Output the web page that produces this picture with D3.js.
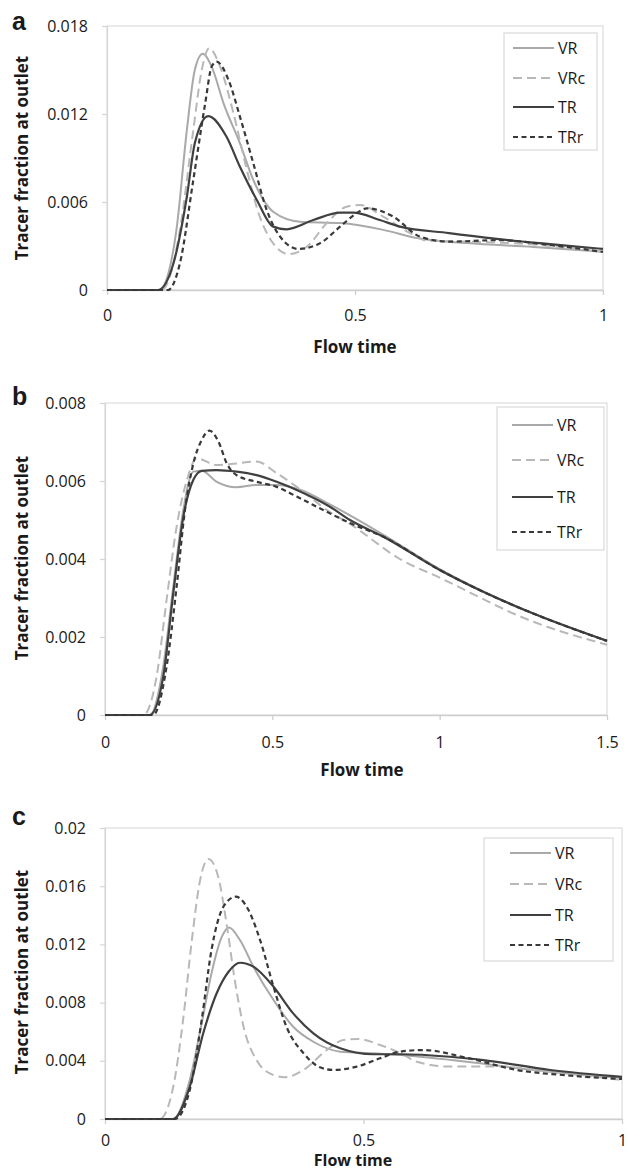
<!DOCTYPE html>
<html>
<head>
<meta charset="utf-8">
<script src="https://cdn.jsdelivr.net/npm/d3@7"></script>
<style>
  body { margin: 0; background: #fff; }
  svg text { font-family: "Open Sans", "Noto Sans", sans-serif; fill: #1a1a1a; }
</style>
</head>
<body>
<div id="chart"></div>
<script>
// series names shared by all three panels
const seriesNames = ["VR", "VRc", "TR", "TRr"];

// panel a: [flow time, tracer fraction]
const aVR = [[0,0],[0.105,0],[0.125,0.0013],[0.14,0.0041],[0.161,0.0109],[0.177,0.015],[0.193,0.0161],[0.211,0.01523],[0.235,0.01273],[0.268,0.01],[0.295,0.0075],[0.335,0.00534],[0.389,0.00466],[0.47,0.00456],[0.557,0.0041],[0.625,0.00354],[0.725,0.0032],[0.86,0.00293],[1,0.0026]];
const aVRc = [[0,0],[0.11,0],[0.13,0.0013],[0.147,0.0041],[0.174,0.0109],[0.191,0.015],[0.206,0.01648],[0.228,0.01523],[0.255,0.01205],[0.282,0.00818],[0.308,0.005],[0.335,0.00318],[0.366,0.00245],[0.403,0.00295],[0.443,0.00456],[0.483,0.00568],[0.51,0.0058],[0.557,0.005],[0.61,0.0039],[0.645,0.00336],[0.725,0.0033],[0.86,0.0031],[1,0.0026]];
const aTR = [[0,0],[0.103,0],[0.134,0.00182],[0.161,0.00636],[0.177,0.01],[0.204,0.01186],[0.241,0.01045],[0.268,0.0084],[0.302,0.00614],[0.335,0.00432],[0.362,0.00414],[0.416,0.00477],[0.47,0.00527],[0.497,0.00527],[0.55,0.00477],[0.591,0.00432],[0.69,0.00388],[0.79,0.00347],[0.893,0.00313],[1,0.0028]];
const aTRr = [[0,0],[0.123,0],[0.147,0.00182],[0.174,0.0075],[0.198,0.01273],[0.211,0.01523],[0.221,0.01557],[0.245,0.01432],[0.268,0.01182],[0.295,0.00864],[0.322,0.00545],[0.349,0.00364],[0.386,0.0028],[0.429,0.00318],[0.47,0.00432],[0.503,0.00523],[0.524,0.00557],[0.577,0.005],[0.631,0.00364],[0.69,0.0033],[0.79,0.0034],[0.893,0.00307],[1,0.0026]];

// panel b
const bVR = [[0,0],[0.134,0],[0.174,0.00124],[0.204,0.00329],[0.234,0.00526],[0.264,0.00624],[0.289,0.00626],[0.334,0.00598],[0.393,0.00584],[0.453,0.0059],[0.513,0.0059],[0.583,0.00578],[0.672,0.0054],[0.732,0.00512],[0.832,0.00462],[1,0.00374],[1.13,0.00317],[1.28,0.0026],[1.5,0.0019]];
const bVRc = [[0,0],[0.115,0],[0.154,0.00098],[0.184,0.00295],[0.214,0.00483],[0.244,0.006],[0.274,0.00658],[0.334,0.00641],[0.393,0.00645],[0.453,0.0065],[0.513,0.0062],[0.573,0.00585],[0.672,0.0052],[0.732,0.0049],[0.881,0.004],[1,0.00352],[1.28,0.00239],[1.5,0.0018]];
const bTR = [[0,0],[0.134,0],[0.174,0.00098],[0.204,0.00312],[0.234,0.00508],[0.264,0.00603],[0.289,0.00626],[0.334,0.00628],[0.393,0.00624],[0.453,0.00615],[0.513,0.00598],[0.573,0.00577],[0.672,0.00534],[0.732,0.005],[0.832,0.00457],[1,0.00372],[1.13,0.00316],[1.28,0.0026],[1.5,0.0019]];
const bTRr = [[0,0],[0.144,0],[0.184,0.00124],[0.214,0.00329],[0.239,0.00526],[0.264,0.00645],[0.289,0.00705],[0.312,0.00729],[0.339,0.00701],[0.364,0.00645],[0.393,0.00615],[0.453,0.00598],[0.513,0.00585],[0.573,0.0056],[0.672,0.00517],[0.732,0.00492],[0.832,0.00457],[1,0.00372],[1.13,0.00316],[1.28,0.0026],[1.5,0.0019]];

// panel c
const cVR = [[0,0],[0.132,0],[0.164,0.00268],[0.187,0.00658],[0.206,0.01001],[0.226,0.01253],[0.24,0.01317],[0.261,0.0123],[0.287,0.01047],[0.326,0.00818],[0.364,0.00634],[0.403,0.00531],[0.455,0.00463],[0.519,0.00452],[0.571,0.0044],[0.7,0.00394],[0.828,0.00337],[1,0.00282]];
const cVRc = [[0,0],[0.106,0],[0.132,0.00222],[0.151,0.0068],[0.168,0.0123],[0.184,0.01643],[0.2,0.01787],[0.219,0.01665],[0.235,0.01345],[0.251,0.00955],[0.268,0.00634],[0.293,0.00405],[0.326,0.00302],[0.348,0.00287],[0.384,0.00337],[0.429,0.00474],[0.461,0.00543],[0.49,0.0055],[0.532,0.00509],[0.571,0.00453],[0.603,0.00394],[0.667,0.0036],[0.764,0.0036],[0.861,0.00325],[1,0.00268]];
const cTR = [[0,0],[0.132,0],[0.164,0.00222],[0.19,0.00589],[0.216,0.00864],[0.239,0.01012],[0.261,0.01074],[0.287,0.01047],[0.326,0.00909],[0.364,0.00726],[0.403,0.00589],[0.455,0.00486],[0.519,0.00445],[0.571,0.00445],[0.667,0.00428],[0.732,0.00405],[0.861,0.00337],[1,0.0029]];
const cTRr = [[0,0],[0.135,0],[0.164,0.002],[0.187,0.0068],[0.206,0.01162],[0.229,0.01459],[0.253,0.01528],[0.274,0.01459],[0.3,0.0123],[0.326,0.00909],[0.351,0.00634],[0.384,0.00452],[0.416,0.00355],[0.442,0.00337],[0.487,0.0036],[0.532,0.00417],[0.571,0.00463],[0.615,0.00474],[0.7,0.0042],[0.797,0.00337],[0.893,0.003],[1,0.00275]];

// tick values
const aXTicks = [0, 0.5, 1];
const aYTicks = [0, 0.006, 0.012, 0.018];
const bXTicks = [0, 0.5, 1, 1.5];
const bYTicks = [0, 0.002, 0.004, 0.006, 0.008];
const cXTicks = [0, 0.5, 1];
const cYTicks = [0, 0.004, 0.008, 0.012, 0.016, 0.02];

// line styles per series
const styles = {
    VR:  { color: "#a9a9a9", width: 2,   dash: null },
    VRc: { color: "#b8b8b8", width: 2,   dash: "9,5" },
    TR:  { color: "#404040", width: 2.2, dash: null },
    TRr: { color: "#383838", width: 2.2, dash: "5,3.5" }
};

const svg = d3.select("#chart")
    .append("svg")
    .attr("width", 627)
    .attr("height", 1173);

const panels = [
    { letter: "a", series: [aVR, aVRc, aTR, aTRr], xTicks: aXTicks, yTicks: aYTicks,
      xDomain: [0, 1], yDomain: [0, 0.018], left: 107, right: 603, top: 26, bottom: 290,
      letterY: 30, xLabelY: 25, titleY: 347, titleX: 355, titleSize: 17, yTitleY: 158,
      legend: { x: 504, y: 33, w: 93, h: 117, rows: [48, 78, 107, 137], lx: 513 } },
    { letter: "b", series: [bVR, bVRc, bTR, bTRr], xTicks: bXTicks, yTicks: bYTicks,
      xDomain: [0, 1.5], yDomain: [0, 0.008], left: 105, right: 607, top: 403, bottom: 715,
      letterY: 405, xLabelY: 27, titleY: 770, titleX: 362, titleSize: 17, yTitleY: 558,
      legend: { x: 497, y: 407, w: 107, h: 143, rows: [425, 460, 497, 532], lx: 512 } },
    { letter: "c", series: [cVR, cVRc, cTR, cTRr], xTicks: cXTicks, yTicks: cYTicks,
      xDomain: [0, 1], yDomain: [0, 0.02], left: 105, right: 622, top: 828, bottom: 1119,
      letterY: 825, xLabelY: 21, titleY: 1160, titleX: 353, titleSize: 16, yTitleY: 972,
      legend: { x: 484, y: 838, w: 129, h: 123, rows: [853, 884, 915, 945], lx: 510 } }
];

panels.forEach(p => drawPanel(p));

function drawPanel(p) {
    const xScale = d3.scaleLinear().domain(p.xDomain).range([p.left, p.right]);
    const yScale = d3.scaleLinear().domain(p.yDomain).range([p.bottom, p.top]);

    const g = svg.append("g");

    // plot area frame
    g.append("rect")
        .attr("x", p.left)
        .attr("y", p.top)
        .attr("width", p.right - p.left)
        .attr("height", p.bottom - p.top)
        .attr("fill", "none")
        .attr("stroke", "#dcdcdc")
        .attr("stroke-width", 1.2);

    // axes
    const xAxis = d3.axisBottom(xScale)
        .tickValues(p.xTicks)
        .tickSize(5)
        .tickSizeOuter(0)
        .tickFormat(d => String(d));
    const gx = g.append("g")
        .attr("transform", `translate(0, ${p.bottom})`)
        .call(xAxis);
    gx.select(".domain").attr("stroke", "#cfcfcf").attr("stroke-width", 1.3);
    gx.selectAll(".tick line").attr("stroke", "#cfcfcf").attr("stroke-width", 1.3);
    gx.selectAll(".tick text")
        .attr("y", p.xLabelY)
        .attr("dy", "0.35em")
        .style("font-size", "16px")
        .attr("fill", "#1a1a1a");

    const yAxis = d3.axisLeft(yScale)
        .tickValues(p.yTicks)
        .tickSize(5)
        .tickSizeOuter(0)
        .tickPadding(14)
        .tickFormat(d => String(d));
    const gy = g.append("g")
        .attr("transform", `translate(${p.left}, 0)`)
        .call(yAxis);
    gy.select(".domain").attr("stroke", "#d6d6d6").attr("stroke-width", 1.2);
    gy.selectAll(".tick line").attr("stroke", "#d6d6d6").attr("stroke-width", 1.2);
    gy.selectAll(".tick text")
        .style("font-size", "16px")
        .attr("fill", "#1a1a1a");

    // curves
    const line = d3.line()
        .x(d => xScale(d[0]))
        .y(d => yScale(d[1]))
        .curve(d3.curveMonotoneX);

    p.series.forEach((s, i) => {
        const st = styles[seriesNames[i]];
        g.append("path")
            .datum(s)
            .attr("d", line)
            .attr("fill", "none")
            .attr("stroke", st.color)
            .attr("stroke-width", st.width)
            .attr("stroke-dasharray", st.dash);
    });

    // legend
    const lg = p.legend;
    g.append("rect")
        .attr("x", lg.x)
        .attr("y", lg.y)
        .attr("width", lg.w)
        .attr("height", lg.h)
        .attr("fill", "#fff")
        .attr("stroke", "#d9d9d9")
        .attr("stroke-width", 1.2);
    seriesNames.forEach((name, i) => {
        const st = styles[name];
        g.append("line")
            .attr("x1", lg.lx)
            .attr("x2", lg.lx + 41)
            .attr("y1", lg.rows[i])
            .attr("y2", lg.rows[i])
            .attr("stroke", st.color)
            .attr("stroke-width", st.width)
            .attr("stroke-dasharray", st.dash);
        g.append("text")
            .attr("x", lg.lx + 45)
            .attr("y", lg.rows[i])
            .attr("dy", "0.35em")
            .style("font-size", "16px")
            .text(name);
    });

    // titles
    g.append("text")
        .attr("x", p.titleX)
        .attr("y", p.titleY)
        .attr("dy", "0.35em")
        .attr("text-anchor", "middle")
        .style("font-size", p.titleSize + "px")
        .style("font-weight", "bold")
        .text("Flow time");

    g.append("text")
        .attr("transform", `translate(22, ${p.yTitleY}) rotate(-90)`)
        .attr("dy", "0.35em")
        .attr("text-anchor", "middle")
        .style("font-size", "17px")
        .style("font-weight", "bold")
        .text("Tracer fraction at outlet");

    g.append("text")
        .attr("x", 12)
        .attr("y", p.letterY)
        .style("font-family", "'Liberation Sans', Arial, sans-serif")
        .style("font-size", "25px")
        .style("font-weight", "bold")
        .text(p.letter);
}
</script>
</body>
</html>
